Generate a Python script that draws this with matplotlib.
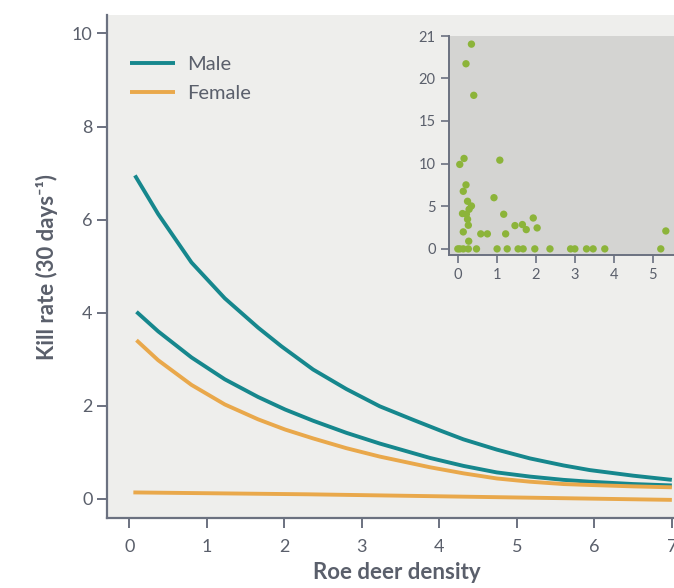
import matplotlib.pyplot as plt

plt.rcParams['font.family'] = ['Lato', 'DejaVu Sans']

# main curves, values
male_hi_x = [0.07, 0.37, 0.80, 1.23, 1.66, 1.96, 2.37, 2.80, 3.23, 3.66, 4.01, 4.31,
             4.74, 5.17, 5.60, 5.94, 6.50, 7.0]
male_hi_y = [6.95, 6.12, 5.08, 4.31, 3.68, 3.28, 2.78, 2.36, 1.99, 1.70, 1.47, 1.28,
             1.06, 0.87, 0.72, 0.62, 0.50, 0.41]
male_lo_x = [0.09, 0.37, 0.80, 1.23, 1.66, 2.01, 2.37, 2.80, 3.23, 3.88, 4.31, 4.74,
             5.17, 5.60, 5.94, 6.50, 7.0]
male_lo_y = [4.02, 3.60, 3.04, 2.57, 2.19, 1.92, 1.68, 1.42, 1.19, 0.88, 0.71, 0.57,
             0.48, 0.41, 0.37, 0.32, 0.29]
fem_hi_x = [0.09, 0.37, 0.80, 1.23, 1.66, 2.01, 2.37, 2.80, 3.23, 3.88, 4.31, 4.74,
            5.17, 5.60, 5.94, 6.50, 7.0]
fem_hi_y = [3.41, 2.98, 2.45, 2.03, 1.71, 1.49, 1.30, 1.09, 0.91, 0.68, 0.55, 0.44,
            0.37, 0.32, 0.30, 0.27, 0.25]
fem_lo_x = [0.05, 2.29, 3.88, 7.0]
fem_lo_y = [0.14, 0.10, 0.06, -0.02]

# inset scatter (observed kill rates)
obs_x = [-0.01, 0.04, 0.13, 0.26, 0.47, 1.0, 1.26, 1.54, 1.67, 1.97, 2.36, 2.89, 3.0,
         3.3, 3.47, 3.77, 5.21,
         0.34, 0.2, 0.4, 0.15, 0.04, 1.07, 0.2, 0.13, 0.92, 0.24, 0.34, 0.28, 0.11,
         0.21, 1.17, 0.24, 1.93, 0.26, 1.46, 1.65, 1.75, 2.03, 0.13, 0.58, 0.75,
         1.22, 0.27, 5.34]
obs_y = [0, 0, 0, 0, 0, 0, 0, 0, 0, 0, 0, 0, 0,
         0, 0, 0, 0,
         24.0, 21.7, 18.0, 10.6, 9.9, 10.4, 7.5, 6.75, 6.0, 5.58, 5.03, 4.64, 4.14,
         4.06, 4.06, 3.47, 3.62, 2.77, 2.73, 2.85, 2.26, 2.46, 1.99, 1.76, 1.76,
         1.76, 0.9, 2.1]

teal = '#16878d'
orange = '#e9a84b'
axis_col = '#6b7180'
text_col = '#5a5f6b'

fig = plt.figure(figsize=(6.74, 5.88), dpi=100)
ax = fig.add_axes([0.1588, 0.119, 0.861, 0.855])
ax.set_facecolor('#eeeeec')

line_kw = dict(lw=2.8, solid_capstyle='butt', solid_joinstyle='round')
ax.plot(male_hi_x, male_hi_y, color=teal, label='Male', **line_kw)
ax.plot(male_lo_x, male_lo_y, color=teal, **line_kw)
ax.plot(fem_hi_x, fem_hi_y, color=orange, label='Female', **line_kw)
ax.plot(fem_lo_x, fem_lo_y, color=orange, **line_kw)

ax.set_xlim(-0.29, 7.2)
ax.set_ylim(-0.41, 10.39)
ax.set_xticks(range(0, 8))
ax.set_yticks([0, 2, 4, 6, 8, 10])
for s in ['top', 'right']:
    ax.spines[s].set_visible(False)
for s in ['left', 'bottom']:
    ax.spines[s].set_color(axis_col)
    ax.spines[s].set_linewidth(1.6)
ax.tick_params(colors=axis_col, labelcolor=text_col, labelsize=13, width=1.4, length=7)
ax.tick_params(axis='x', pad=8)
ax.set_xlabel('Roe deer density', fontsize=16, fontweight='bold', color=text_col, labelpad=5)
ax.set_ylabel('Kill rate (30 days⁻¹)', fontsize=16, fontweight='bold', color=text_col, labelpad=10)

leg = ax.legend(loc='upper left', bbox_to_anchor=(0.04, 0.92), frameon=False, fontsize=14.5,
                handlelength=2.2, handletextpad=0.6, labelspacing=0.6,
                borderpad=0, borderaxespad=0)
for t in leg.get_texts():
    t.set_color(text_col)

# inset
ins = fig.add_axes([0.666, 0.566, 0.334, 0.372])
ins.set_facecolor('#d4d4d2')
ins.scatter(obs_x, obs_y, s=28, color='#8cb43a', edgecolors='none', zorder=3, clip_on=False)
ins.set_xlim(-0.24, 5.55)
ins.set_ylim(-0.74, 24.9)
ins.set_xticks(range(0, 6))
ins.set_yticks([0, 5, 10, 15, 20, 24.9])
ins.set_yticklabels(['0', '5', '10', '15', '20', '21'])
for s in ['top', 'right']:
    ins.spines[s].set_visible(False)
for s in ['left', 'bottom']:
    ins.spines[s].set_color(axis_col)
    ins.spines[s].set_linewidth(1.4)
ins.tick_params(colors=axis_col, labelcolor=text_col, labelsize=10.5, width=1.2, length=6)

fig.savefig('out.png', dpi=100)
